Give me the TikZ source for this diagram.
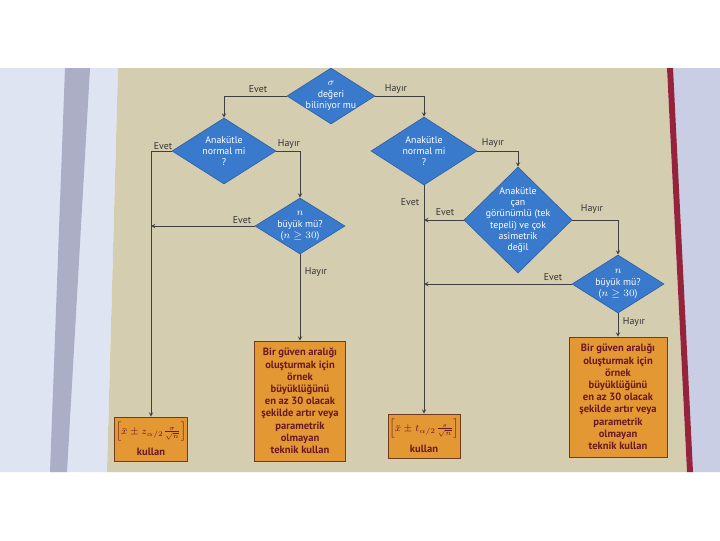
\documentclass[tikz,border=0pt]{standalone}
\usepackage{amsmath,amssymb}
\usepackage{fontspec}
\setmainfont{PT Sans}
\usetikzlibrary{shapes.geometric}
\definecolor{pagebeige}{RGB}{212,205,176}
\definecolor{flowblue}{RGB}{58,122,204}
\definecolor{flowedge}{RGB}{40,92,160}
\definecolor{boxorange}{RGB}{228,152,52}
\definecolor{boxedge}{RGB}{110,60,30}
\definecolor{boxtext}{RGB}{105,25,35}
\definecolor{leftpage}{RGB}{222,228,242}
\definecolor{gutter}{RGB}{172,174,198}
\definecolor{rightside}{RGB}{202,206,228}
\definecolor{bookred}{RGB}{150,35,60}

\begin{document}
\begin{tikzpicture}[x=0.025cm,y=-0.025cm,
  decision/.style={diamond,draw=flowedge,fill=flowblue,text=white,align=center,inner sep=-5pt,font=\fontsize{7}{8}\selectfont},
  result/.style={rectangle,draw=boxedge,fill=boxorange,text=boxtext,align=center,inner sep=1pt,font=\fontsize{7.5}{8.7}\selectfont\bfseries},
  conn/.style={draw=black!75,thin,-stealth},
  lbl/.style={font=\fontsize{7}{8}\selectfont,text=black!80,inner sep=1pt}]
\useasboundingbox (0,0) rectangle (720,540);

% Page of the book
\fill[white] (0,0) rectangle (720,540);
\fill[leftpage] (0,68) -- (118,68) -- (107,472) -- (0,472) -- cycle;
\fill[gutter] (65,68) -- (90,68) -- (67,472) -- (50,472) -- cycle;
\fill[rightside] (667,68) -- (720,68) -- (720,472) -- (687,472) -- cycle;
\fill[pagebeige] (118,68) -- (667,68) -- (687,472) -- (107,472) -- cycle;
\fill[bookred] (667,68) -- (673,68) -- (693,472) -- (687,472) -- cycle;

% Decisions
\node[decision,minimum width=2.2cm,minimum height=1.4cm] (d1) at (331,96) {$\sigma$\\değeri\\biliniyor mu};
\node[decision,minimum width=2.6cm,minimum height=1.65cm] (d2) at (224,151) {Anakütle\\normal mi\\?};
\node[decision,minimum width=2.65cm,minimum height=1.7cm] (d3) at (424,151) {Anakütle\\normal mi\\?};
\node[decision,minimum width=2.25cm,minimum height=1.4cm] (d4) at (300,226) {$n$\\büyük mü?\\($n \geq 30$)};
\node[decision,minimum width=2.7cm,minimum height=2.65cm] (d5) at (518,220) {Anakütle\\çan\\görünümlü (tek\\tepeli) ve çok\\asimetrik\\değil};
\node[decision,minimum width=2.3cm,minimum height=1.45cm] (d6) at (618,284) {$n$\\büyük mü?\\($n \geq 30$)};

% Results
\node[result,minimum width=1.6cm,minimum height=1.1cm] (b1) at (151,439) {$\left[\bar{x}\pm z_{\alpha/2}\frac{\sigma}{\sqrt{n}}\right]$\\[4pt]kullan};
\node[result,minimum width=2.275cm,minimum height=3cm] (b2) at (300,401) {Bir güven aralığı\\oluşturmak için\\örnek\\büyüklüğünü\\en az 30 olacak\\şekilde artır veya\\parametrik\\olmayan\\teknik kullan};
\node[result,minimum width=1.75cm,minimum height=1.1cm] (b3) at (424,436) {$\left[\bar{x}\pm t_{\alpha/2}\frac{s}{\sqrt{n}}\right]$\\[4pt]kullan};
\node[result,minimum width=2.45cm,minimum height=3cm] (b4) at (618,397) {Bir güven aralığı\\oluşturmak için\\örnek\\büyüklüğünü\\en az 30 olacak\\şekilde artır veya\\parametrik\\olmayan\\teknik kullan};

% Connections
\draw[conn] (d1.west) -| (d2.north);
\draw[conn] (d1.east) -| (d3.north);
\draw[conn] (d2.west) -| (b1.north);
\draw[conn] (d2.east) -| (d4.north);
\draw[conn] (d4.west) -- (d4.west -| b1.north);
\draw[conn] (d4.south) -- (b2.north);
\draw[conn] (d3.south) -- (b3.north);
\draw[conn] (d3.east) -| (d5.north);
\draw[conn] (d5.west) -- (d5.west -| b3.north);
\draw[conn] (d5.east) -| (d6.north);
\draw[conn] (d6.west) -- (d6.west -| b3.north);
\draw[conn] (d6.south) -- (b4.north);

% Labels
\node[lbl] (e1) at (258,89) {Evet};
\node[lbl] (h1) at (396,89) {Hayır};
\node[lbl] (e2) at (163,146) {Evet};
\node[lbl] (h2) at (289,144) {Hayır};
\node[lbl] (e4) at (242,220) {Evet};
\node[lbl] (h4) at (316,272) {Hayır};
\node[lbl] (h3) at (493,143) {Hayır};
\node[lbl] (e3) at (410,202) {Evet};
\node[lbl] (e5) at (445,212) {Evet};
\node[lbl] (h5) at (592,209) {Hayır};
\node[lbl] (e6) at (553,277) {Evet};
\node[lbl] (h6) at (634,322) {Hayır};
\end{tikzpicture}
\end{document}
